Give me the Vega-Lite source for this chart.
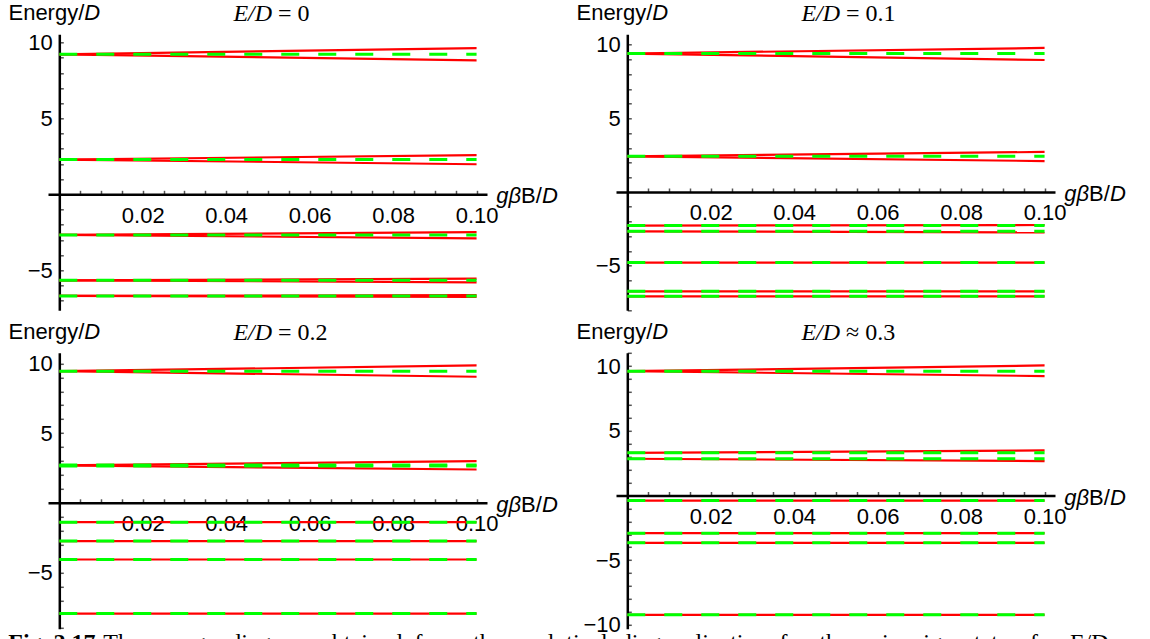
{
  "$schema": "https://vega.github.io/schema/vega-lite/v6.json",
  "background": "white",
  "padding": {"left": 8, "top": 2.3, "right": 0, "bottom": 0},
  "autosize": {"type": "pad"},
  "config": {"view": {"stroke": null}, "axis": {"grid": false}},
  "datasets": {
    "labels": [
      {"p":1,"r":"en","t":"Energy/"},{"p":1,"r":"ed","t":"D"},{"p":1,"r":"ti","t":"E/D"},{"p":1,"r":"tv","t":"= 0"},{"p":1,"r":"xa","t":"gβ"},{"p":1,"r":"xb","t":"B/"},{"p":1,"r":"xc","t":"D"},
      {"p":2,"r":"en","t":"Energy/"},{"p":2,"r":"ed","t":"D"},{"p":2,"r":"ti","t":"E/D"},{"p":2,"r":"tv","t":"= 0.1"},{"p":2,"r":"xa","t":"gβ"},{"p":2,"r":"xb","t":"B/"},{"p":2,"r":"xc","t":"D"},
      {"p":3,"r":"en","t":"Energy/"},{"p":3,"r":"ed","t":"D"},{"p":3,"r":"ti","t":"E/D"},{"p":3,"r":"tv","t":"= 0.2"},{"p":3,"r":"xa","t":"gβ"},{"p":3,"r":"xb","t":"B/"},{"p":3,"r":"xc","t":"D"},
      {"p":3,"r":"ca","t":"Fig. 2.17"},{"p":3,"r":"cb","t":"The \u00a0energy \u00a0diagram \u00a0obtained \u00a0from \u00a0the \u00a0analytical \u00a0diagonalization \u00a0for \u00a0the \u00a0spin \u00a0eigenstates \u00a0for \u00a0E/D"},
      {"p":4,"r":"en","t":"Energy/"},{"p":4,"r":"ed","t":"D"},{"p":4,"r":"ti","t":"E/D"},{"p":4,"r":"tv","t":"≈ 0.3"},{"p":4,"r":"xa","t":"gβ"},{"p":4,"r":"xb","t":"B/"},{"p":4,"r":"xc","t":"D"}
    ],
    "lines": [
      {"p":1,"s":"exact","id":"a","x":0,"y":9.23},{"p":1,"s":"exact","id":"a","x":0.1,"y":9.64},
      {"p":1,"s":"exact","id":"b","x":0,"y":9.23},{"p":1,"s":"exact","id":"b","x":0.1,"y":8.83},
      {"p":1,"s":"exact","id":"c","x":0,"y":2.29},{"p":1,"s":"exact","id":"c","x":0.1,"y":2.58},
      {"p":1,"s":"exact","id":"d","x":0,"y":2.29},{"p":1,"s":"exact","id":"d","x":0.1,"y":1.98},
      {"p":1,"s":"exact","id":"e","x":0,"y":-2.68},{"p":1,"s":"exact","id":"e","x":0.1,"y":-2.49},
      {"p":1,"s":"exact","id":"f","x":0,"y":-2.68},{"p":1,"s":"exact","id":"f","x":0.1,"y":-2.9},
      {"p":1,"s":"exact","id":"g","x":0,"y":-5.67},{"p":1,"s":"exact","id":"g","x":0.1,"y":-5.56},
      {"p":1,"s":"exact","id":"h","x":0,"y":-5.67},{"p":1,"s":"exact","id":"h","x":0.1,"y":-5.8},
      {"p":1,"s":"exact","id":"i","x":0,"y":-6.7},{"p":1,"s":"exact","id":"i","x":0.1,"y":-6.65},
      {"p":1,"s":"exact","id":"j","x":0,"y":-6.7},{"p":1,"s":"exact","id":"j","x":0.1,"y":-6.76},
      {"p":1,"s":"pert","id":"A","x":0,"y":9.23},{"p":1,"s":"pert","id":"A","x":0.1,"y":9.23},
      {"p":1,"s":"pert","id":"B","x":0,"y":2.29},{"p":1,"s":"pert","id":"B","x":0.1,"y":2.29},
      {"p":1,"s":"pert","id":"C","x":0,"y":-2.68},{"p":1,"s":"pert","id":"C","x":0.1,"y":-2.68},
      {"p":1,"s":"pert","id":"D","x":0,"y":-5.67},{"p":1,"s":"pert","id":"D","x":0.1,"y":-5.67},
      {"p":1,"s":"pert","id":"E","x":0,"y":-6.7},{"p":1,"s":"pert","id":"E","x":0.1,"y":-6.7},

      {"p":2,"s":"exact","id":"a","x":0,"y":9.4},{"p":2,"s":"exact","id":"a","x":0.1,"y":9.78},
      {"p":2,"s":"exact","id":"b","x":0,"y":9.4},{"p":2,"s":"exact","id":"b","x":0.1,"y":8.96},
      {"p":2,"s":"exact","id":"c","x":0,"y":2.42},{"p":2,"s":"exact","id":"c","x":0.1,"y":2.72},
      {"p":2,"s":"exact","id":"d","x":0,"y":2.42},{"p":2,"s":"exact","id":"d","x":0.1,"y":2.1},
      {"p":2,"s":"exact","id":"e","x":0,"y":-2.28},{"p":2,"s":"exact","id":"e","x":0.1,"y":-2.24},
      {"p":2,"s":"exact","id":"f","x":0,"y":-2.67},{"p":2,"s":"exact","id":"f","x":0.1,"y":-2.74},
      {"p":2,"s":"exact","id":"g","x":0,"y":-4.79},{"p":2,"s":"exact","id":"g","x":0.1,"y":-4.79},
      {"p":2,"s":"exact","id":"h","x":0,"y":-6.74},{"p":2,"s":"exact","id":"h","x":0.1,"y":-6.74},
      {"p":2,"s":"exact","id":"i","x":0,"y":-7.08},{"p":2,"s":"exact","id":"i","x":0.1,"y":-7.08},
      {"p":2,"s":"pert","id":"A","x":0,"y":9.4},{"p":2,"s":"pert","id":"A","x":0.1,"y":9.4},
      {"p":2,"s":"pert","id":"B","x":0,"y":2.42},{"p":2,"s":"pert","id":"B","x":0.1,"y":2.42},
      {"p":2,"s":"pert","id":"C","x":0,"y":-2.28},{"p":2,"s":"pert","id":"C","x":0.1,"y":-2.28},
      {"p":2,"s":"pert","id":"D","x":0,"y":-2.67},{"p":2,"s":"pert","id":"D","x":0.1,"y":-2.67},
      {"p":2,"s":"pert","id":"E","x":0,"y":-4.79},{"p":2,"s":"pert","id":"E","x":0.1,"y":-4.79},
      {"p":2,"s":"pert","id":"F","x":0,"y":-6.74},{"p":2,"s":"pert","id":"F","x":0.1,"y":-6.74},
      {"p":2,"s":"pert","id":"G","x":0,"y":-7.08},{"p":2,"s":"pert","id":"G","x":0.1,"y":-7.08},

      {"p":3,"s":"exact","id":"a","x":0,"y":9.45},{"p":3,"s":"exact","id":"a","x":0.1,"y":9.86},
      {"p":3,"s":"exact","id":"b","x":0,"y":9.45},{"p":3,"s":"exact","id":"b","x":0.1,"y":9.05},
      {"p":3,"s":"exact","id":"c","x":0,"y":2.68},{"p":3,"s":"exact","id":"c","x":0.1,"y":2.99},
      {"p":3,"s":"exact","id":"d","x":0,"y":2.68},{"p":3,"s":"exact","id":"d","x":0.1,"y":2.39},
      {"p":3,"s":"exact","id":"e","x":0,"y":-1.39},{"p":3,"s":"exact","id":"e","x":0.1,"y":-1.39},
      {"p":3,"s":"exact","id":"f","x":0,"y":-2.75},{"p":3,"s":"exact","id":"f","x":0.1,"y":-2.75},
      {"p":3,"s":"exact","id":"g","x":0,"y":-4.07},{"p":3,"s":"exact","id":"g","x":0.1,"y":-4.07},
      {"p":3,"s":"exact","id":"h","x":0,"y":-7.95},{"p":3,"s":"exact","id":"h","x":0.1,"y":-7.95},
      {"p":3,"s":"pert","id":"A","x":0,"y":9.45},{"p":3,"s":"pert","id":"A","x":0.1,"y":9.45},
      {"p":3,"s":"pert","id":"B","x":0,"y":2.65},{"p":3,"s":"pert","id":"B","x":0.1,"y":2.65},
      {"p":3,"s":"pert","id":"B2","x":0,"y":2.71},{"p":3,"s":"pert","id":"B2","x":0.1,"y":2.71},
      {"p":3,"s":"pert","id":"C","x":0,"y":-1.39},{"p":3,"s":"pert","id":"C","x":0.1,"y":-1.39},
      {"p":3,"s":"pert","id":"D","x":0,"y":-2.75},{"p":3,"s":"pert","id":"D","x":0.1,"y":-2.75},
      {"p":3,"s":"pert","id":"E","x":0,"y":-4.07},{"p":3,"s":"pert","id":"E","x":0.1,"y":-4.07},
      {"p":3,"s":"pert","id":"F","x":0,"y":-7.95},{"p":3,"s":"pert","id":"F","x":0.1,"y":-7.95},

      {"p":4,"s":"exact","id":"a","x":0,"y":9.61},{"p":4,"s":"exact","id":"a","x":0.1,"y":10.05},
      {"p":4,"s":"exact","id":"b","x":0,"y":9.61},{"p":4,"s":"exact","id":"b","x":0.1,"y":9.23},
      {"p":4,"s":"exact","id":"c","x":0,"y":3.3},{"p":4,"s":"exact","id":"c","x":0.1,"y":3.48},
      {"p":4,"s":"exact","id":"d","x":0,"y":2.84},{"p":4,"s":"exact","id":"d","x":0.1,"y":2.66},
      {"p":4,"s":"exact","id":"e","x":0,"y":-0.39},{"p":4,"s":"exact","id":"e","x":0.1,"y":-0.39},
      {"p":4,"s":"exact","id":"f","x":0,"y":-2.91},{"p":4,"s":"exact","id":"f","x":0.1,"y":-2.91},
      {"p":4,"s":"exact","id":"g","x":0,"y":-3.66},{"p":4,"s":"exact","id":"g","x":0.1,"y":-3.66},
      {"p":4,"s":"exact","id":"h","x":0,"y":-9.22},{"p":4,"s":"exact","id":"h","x":0.1,"y":-9.22},
      {"p":4,"s":"pert","id":"A","x":0,"y":9.61},{"p":4,"s":"pert","id":"A","x":0.1,"y":9.61},
      {"p":4,"s":"pert","id":"B","x":0,"y":3.3},{"p":4,"s":"pert","id":"B","x":0.1,"y":3.3},
      {"p":4,"s":"pert","id":"C","x":0,"y":2.84},{"p":4,"s":"pert","id":"C","x":0.1,"y":2.84},
      {"p":4,"s":"pert","id":"D","x":0,"y":-0.39},{"p":4,"s":"pert","id":"D","x":0.1,"y":-0.39},
      {"p":4,"s":"pert","id":"E","x":0,"y":-2.91},{"p":4,"s":"pert","id":"E","x":0.1,"y":-2.91},
      {"p":4,"s":"pert","id":"F","x":0,"y":-3.66},{"p":4,"s":"pert","id":"F","x":0.1,"y":-3.66},
      {"p":4,"s":"pert","id":"G","x":0,"y":-9.22},{"p":4,"s":"pert","id":"G","x":0.1,"y":-9.22}
    ]
  },
  "columns": 2,
  "spacing": {"row": 42.5, "column": 129},
  "bounds": "flush",
  "concat": [
    {
      "width": 439, "height": 276,
      "encoding": {
        "x": {"type": "quantitative", "scale": {"domain": [-0.0027, 0.1025], "nice": false, "zero": false},
          "axis": {"orient": "bottom", "offset": -116, "title": null, "values": [0.005,0.01,0.015,0.02,0.025,0.03,0.035,0.04,0.045,0.05,0.055,0.06,0.065,0.07,0.075,0.08,0.085,0.09,0.095,0.1],
            "domainColor": "black", "domainWidth": 2.5, "tickColor": "#555555", "tickWidth": 1.5, "tickSize": -4,
            "labelExpr": "abs(datum.value*50 - round(datum.value*50)) < 1e-6 ? format(datum.value, '.2f') : ''",
            "labelFont": "Liberation Sans", "labelFontSize": 22, "labelColor": "black", "labelPadding": 15, "labelBaseline": "top", "labelOverlap": false, "labelFlush": false, "labelBound": false}},
        "y": {"type": "quantitative", "scale": {"domain": [-7.647, 10.547], "nice": false, "zero": false},
          "axis": {"orient": "left", "offset": -11.3, "title": null, "values": [-7,-6,-5,-4,-3,-2,-1,1,2,3,4,5,6,7,8,9,10],
            "domainColor": "black", "domainWidth": 2.5, "tickColor": "#555555", "tickWidth": 1.5, "tickSize": -4,
            "labelExpr": "datum.value % 5 === 0 ? format(datum.value, 'd') : ''",
            "labelFont": "Liberation Sans", "labelFontSize": 22, "labelColor": "black", "labelPadding": 11, "labelBaseline": "middle", "labelOverlap": false, "labelFlush": false, "labelBound": false}}
      },
      "layer": [
        {"data": {"name": "lines"}, "transform": [{"filter": "datum.p === 1 && datum.s === 'exact'"}], "mark": {"type": "line", "color": "#ff0000", "strokeWidth": 2.2}, "encoding": {"x": {"field": "x"}, "y": {"field": "y"}, "detail": {"field": "id"}}},
        {"data": {"name": "lines"}, "transform": [{"filter": "datum.p === 1 && datum.s === 'pert'"}], "mark": {"type": "line", "color": "#00ff00", "strokeWidth": 3, "strokeDash": [18, 19]}, "encoding": {"x": {"field": "x"}, "y": {"field": "y"}, "detail": {"field": "id"}}},
        {"data": {"name": "labels"}, "transform": [{"filter": "datum.p === 1 && datum.r === 'en'"}], "mark": {"type": "text", "align": "right", "baseline": "alphabetic", "font": "Liberation Sans", "fontSize": 22, "dx": 25, "dy": -14, "color": "black"}, "encoding": {"text": {"field": "t"}, "x": {"datum": 0}, "y": {"datum": 10.547}}},
        {"data": {"name": "labels"}, "transform": [{"filter": "datum.p === 1 && datum.r === 'ed'"}], "mark": {"type": "text", "align": "left", "baseline": "alphabetic", "font": "Liberation Sans", "fontStyle": "italic", "fontSize": 22, "dx": 25, "dy": -14, "color": "black"}, "encoding": {"text": {"field": "t"}, "x": {"datum": 0}, "y": {"datum": 10.547}}},
        {"data": {"name": "labels"}, "transform": [{"filter": "datum.p === 1 && datum.r === 'ti'"}], "mark": {"type": "text", "align": "right", "baseline": "alphabetic", "font": "Liberation Serif", "fontStyle": "italic", "fontSize": 24, "dx": 0, "dy": -13, "color": "black"}, "encoding": {"text": {"field": "t"}, "x": {"datum": 0.051}, "y": {"datum": 10.547}}},
        {"data": {"name": "labels"}, "transform": [{"filter": "datum.p === 1 && datum.r === 'tv'"}], "mark": {"type": "text", "align": "left", "baseline": "alphabetic", "font": "Liberation Serif", "fontSize": 24, "dx": 6, "dy": -13, "color": "black"}, "encoding": {"text": {"field": "t"}, "x": {"datum": 0.051}, "y": {"datum": 10.547}}},
        {"data": {"name": "labels"}, "transform": [{"filter": "datum.p === 1 && datum.r === 'xa'"}], "mark": {"type": "text", "align": "right", "baseline": "alphabetic", "font": "Liberation Sans", "fontStyle": "italic", "fontSize": 22, "dx": 34, "dy": 9, "color": "black"}, "encoding": {"text": {"field": "t"}, "x": {"datum": 0.1025}, "y": {"datum": 0}}},
        {"data": {"name": "labels"}, "transform": [{"filter": "datum.p === 1 && datum.r === 'xb'"}], "mark": {"type": "text", "align": "left", "baseline": "alphabetic", "font": "Liberation Sans", "fontSize": 22, "dx": 34, "dy": 9, "color": "black"}, "encoding": {"text": {"field": "t"}, "x": {"datum": 0.1025}, "y": {"datum": 0}}},
        {"data": {"name": "labels"}, "transform": [{"filter": "datum.p === 1 && datum.r === 'xc'"}], "mark": {"type": "text", "align": "left", "baseline": "alphabetic", "font": "Liberation Sans", "fontStyle": "italic", "fontSize": 22, "dx": 55, "dy": 9, "color": "black"}, "encoding": {"text": {"field": "t"}, "x": {"datum": 0.1025}, "y": {"datum": 0}}}
      ]
    },
    {
      "width": 439, "height": 276,
      "encoding": {
        "x": {"type": "quantitative", "scale": {"domain": [-0.0027, 0.1025], "nice": false, "zero": false},
          "axis": {"orient": "bottom", "offset": -118.3, "title": null, "values": [0.005,0.01,0.015,0.02,0.025,0.03,0.035,0.04,0.045,0.05,0.055,0.06,0.065,0.07,0.075,0.08,0.085,0.09,0.095,0.1],
            "domainColor": "black", "domainWidth": 2.5, "tickColor": "#555555", "tickWidth": 1.5, "tickSize": -4,
            "labelExpr": "abs(datum.value*50 - round(datum.value*50)) < 1e-6 ? format(datum.value, '.2f') : ''",
            "labelFont": "Liberation Sans", "labelFontSize": 22, "labelColor": "black", "labelPadding": 15, "labelBaseline": "top", "labelOverlap": false, "labelFlush": false, "labelBound": false}},
        "y": {"type": "quantitative", "scale": {"domain": [-8.031, 10.706], "nice": false, "zero": false},
          "axis": {"orient": "left", "offset": -11.3, "title": null, "values": [-8,-7,-6,-5,-4,-3,-2,-1,1,2,3,4,5,6,7,8,9,10],
            "domainColor": "black", "domainWidth": 2.5, "tickColor": "#555555", "tickWidth": 1.5, "tickSize": -4,
            "labelExpr": "datum.value % 5 === 0 ? format(datum.value, 'd') : ''",
            "labelFont": "Liberation Sans", "labelFontSize": 22, "labelColor": "black", "labelPadding": 11, "labelBaseline": "middle", "labelOverlap": false, "labelFlush": false, "labelBound": false}}
      },
      "layer": [
        {"data": {"name": "lines"}, "transform": [{"filter": "datum.p === 2 && datum.s === 'exact'"}], "mark": {"type": "line", "color": "#ff0000", "strokeWidth": 2.2}, "encoding": {"x": {"field": "x"}, "y": {"field": "y"}, "detail": {"field": "id"}}},
        {"data": {"name": "lines"}, "transform": [{"filter": "datum.p === 2 && datum.s === 'pert'"}], "mark": {"type": "line", "color": "#00ff00", "strokeWidth": 3, "strokeDash": [18, 19]}, "encoding": {"x": {"field": "x"}, "y": {"field": "y"}, "detail": {"field": "id"}}},
        {"data": {"name": "labels"}, "transform": [{"filter": "datum.p === 2 && datum.r === 'en'"}], "mark": {"type": "text", "align": "right", "baseline": "alphabetic", "font": "Liberation Sans", "fontSize": 22, "dx": 25, "dy": -14, "color": "black"}, "encoding": {"text": {"field": "t"}, "x": {"datum": 0}, "y": {"datum": 10.706}}},
        {"data": {"name": "labels"}, "transform": [{"filter": "datum.p === 2 && datum.r === 'ed'"}], "mark": {"type": "text", "align": "left", "baseline": "alphabetic", "font": "Liberation Sans", "fontStyle": "italic", "fontSize": 22, "dx": 25, "dy": -14, "color": "black"}, "encoding": {"text": {"field": "t"}, "x": {"datum": 0}, "y": {"datum": 10.706}}},
        {"data": {"name": "labels"}, "transform": [{"filter": "datum.p === 2 && datum.r === 'ti'"}], "mark": {"type": "text", "align": "right", "baseline": "alphabetic", "font": "Liberation Serif", "fontStyle": "italic", "fontSize": 24, "dx": 0, "dy": -13, "color": "black"}, "encoding": {"text": {"field": "t"}, "x": {"datum": 0.051}, "y": {"datum": 10.706}}},
        {"data": {"name": "labels"}, "transform": [{"filter": "datum.p === 2 && datum.r === 'tv'"}], "mark": {"type": "text", "align": "left", "baseline": "alphabetic", "font": "Liberation Serif", "fontSize": 24, "dx": 6, "dy": -13, "color": "black"}, "encoding": {"text": {"field": "t"}, "x": {"datum": 0.051}, "y": {"datum": 10.706}}},
        {"data": {"name": "labels"}, "transform": [{"filter": "datum.p === 2 && datum.r === 'xa'"}], "mark": {"type": "text", "align": "right", "baseline": "alphabetic", "font": "Liberation Sans", "fontStyle": "italic", "fontSize": 22, "dx": 34, "dy": 9, "color": "black"}, "encoding": {"text": {"field": "t"}, "x": {"datum": 0.1025}, "y": {"datum": 0}}},
        {"data": {"name": "labels"}, "transform": [{"filter": "datum.p === 2 && datum.r === 'xb'"}], "mark": {"type": "text", "align": "left", "baseline": "alphabetic", "font": "Liberation Sans", "fontSize": 22, "dx": 34, "dy": 9, "color": "black"}, "encoding": {"text": {"field": "t"}, "x": {"datum": 0.1025}, "y": {"datum": 0}}},
        {"data": {"name": "labels"}, "transform": [{"filter": "datum.p === 2 && datum.r === 'xc'"}], "mark": {"type": "text", "align": "left", "baseline": "alphabetic", "font": "Liberation Sans", "fontStyle": "italic", "fontSize": 22, "dx": 55, "dy": 9, "color": "black"}, "encoding": {"text": {"field": "t"}, "x": {"datum": 0.1025}, "y": {"datum": 0}}}
      ]
    },
    {
      "width": 439, "height": 276,
      "encoding": {
        "x": {"type": "quantitative", "scale": {"domain": [-0.0027, 0.1025], "nice": false, "zero": false},
          "axis": {"orient": "bottom", "offset": -126, "title": null, "values": [0.005,0.01,0.015,0.02,0.025,0.03,0.035,0.04,0.045,0.05,0.055,0.06,0.065,0.07,0.075,0.08,0.085,0.09,0.095,0.1],
            "domainColor": "black", "domainWidth": 2.5, "tickColor": "#555555", "tickWidth": 1.5, "tickSize": -4,
            "labelExpr": "abs(datum.value*50 - round(datum.value*50)) < 1e-6 ? format(datum.value, '.2f') : ''",
            "labelFont": "Liberation Sans", "labelFontSize": 22, "labelColor": "black", "labelPadding": 15, "labelBaseline": "top", "labelOverlap": false, "labelFlush": false, "labelBound": false}},
        "y": {"type": "quantitative", "scale": {"domain": [-9.045, 10.768], "nice": false, "zero": false},
          "axis": {"orient": "left", "offset": -11.3, "title": null, "values": [-9,-8,-7,-6,-5,-4,-3,-2,-1,1,2,3,4,5,6,7,8,9,10],
            "domainColor": "black", "domainWidth": 2.5, "tickColor": "#555555", "tickWidth": 1.5, "tickSize": -4,
            "labelExpr": "datum.value % 5 === 0 ? format(datum.value, 'd') : ''",
            "labelFont": "Liberation Sans", "labelFontSize": 22, "labelColor": "black", "labelPadding": 11, "labelBaseline": "middle", "labelOverlap": false, "labelFlush": false, "labelBound": false}}
      },
      "layer": [
        {"data": {"name": "lines"}, "transform": [{"filter": "datum.p === 3 && datum.s === 'exact'"}], "mark": {"type": "line", "color": "#ff0000", "strokeWidth": 2.2}, "encoding": {"x": {"field": "x"}, "y": {"field": "y"}, "detail": {"field": "id"}}},
        {"data": {"name": "lines"}, "transform": [{"filter": "datum.p === 3 && datum.s === 'pert'"}], "mark": {"type": "line", "color": "#00ff00", "strokeWidth": 3, "strokeDash": [18, 19]}, "encoding": {"x": {"field": "x"}, "y": {"field": "y"}, "detail": {"field": "id"}}},
        {"data": {"name": "labels"}, "transform": [{"filter": "datum.p === 3 && datum.r === 'en'"}], "mark": {"type": "text", "align": "right", "baseline": "alphabetic", "font": "Liberation Sans", "fontSize": 22, "dx": 25, "dy": -14, "color": "black"}, "encoding": {"text": {"field": "t"}, "x": {"datum": 0}, "y": {"datum": 10.768}}},
        {"data": {"name": "labels"}, "transform": [{"filter": "datum.p === 3 && datum.r === 'ed'"}], "mark": {"type": "text", "align": "left", "baseline": "alphabetic", "font": "Liberation Sans", "fontStyle": "italic", "fontSize": 22, "dx": 25, "dy": -14, "color": "black"}, "encoding": {"text": {"field": "t"}, "x": {"datum": 0}, "y": {"datum": 10.768}}},
        {"data": {"name": "labels"}, "transform": [{"filter": "datum.p === 3 && datum.r === 'ti'"}], "mark": {"type": "text", "align": "right", "baseline": "alphabetic", "font": "Liberation Serif", "fontStyle": "italic", "fontSize": 24, "dx": 0, "dy": -13, "color": "black"}, "encoding": {"text": {"field": "t"}, "x": {"datum": 0.051}, "y": {"datum": 10.768}}},
        {"data": {"name": "labels"}, "transform": [{"filter": "datum.p === 3 && datum.r === 'tv'"}], "mark": {"type": "text", "align": "left", "baseline": "alphabetic", "font": "Liberation Serif", "fontSize": 24, "dx": 6, "dy": -13, "color": "black"}, "encoding": {"text": {"field": "t"}, "x": {"datum": 0.051}, "y": {"datum": 10.768}}},
        {"data": {"name": "labels"}, "transform": [{"filter": "datum.p === 3 && datum.r === 'xa'"}], "mark": {"type": "text", "align": "right", "baseline": "alphabetic", "font": "Liberation Sans", "fontStyle": "italic", "fontSize": 22, "dx": 34, "dy": 9, "color": "black"}, "encoding": {"text": {"field": "t"}, "x": {"datum": 0.1025}, "y": {"datum": 0}}},
        {"data": {"name": "labels"}, "transform": [{"filter": "datum.p === 3 && datum.r === 'xb'"}], "mark": {"type": "text", "align": "left", "baseline": "alphabetic", "font": "Liberation Sans", "fontSize": 22, "dx": 34, "dy": 9, "color": "black"}, "encoding": {"text": {"field": "t"}, "x": {"datum": 0.1025}, "y": {"datum": 0}}},
        {"data": {"name": "labels"}, "transform": [{"filter": "datum.p === 3 && datum.r === 'xc'"}], "mark": {"type": "text", "align": "left", "baseline": "alphabetic", "font": "Liberation Sans", "fontStyle": "italic", "fontSize": 22, "dx": 55, "dy": 9, "color": "black"}, "encoding": {"text": {"field": "t"}, "x": {"datum": 0.1025}, "y": {"datum": 0}}},
        {"data": {"name": "labels"}, "transform": [{"filter": "datum.p === 3 && datum.r === 'ca'"}], "mark": {"type": "text", "align": "left", "baseline": "alphabetic", "font": "Liberation Serif", "fontWeight": "bold", "fontSize": 24, "dx": -51, "dy": 21, "color": "black"}, "encoding": {"text": {"field": "t"}, "x": {"datum": 0}, "y": {"datum": -9.045}}},
        {"data": {"name": "labels"}, "transform": [{"filter": "datum.p === 3 && datum.r === 'cb'"}], "mark": {"type": "text", "align": "left", "baseline": "alphabetic", "font": "Liberation Serif", "fontSize": 24, "dx": 44, "dy": 21, "color": "black"}, "encoding": {"text": {"field": "t"}, "x": {"datum": 0}, "y": {"datum": -9.045}}}
      ]
    },
    {
      "width": 439, "height": 276,
      "encoding": {
        "x": {"type": "quantitative", "scale": {"domain": [-0.0027, 0.1025], "nice": false, "zero": false},
          "axis": {"orient": "bottom", "offset": -133.3, "title": null, "values": [0.005,0.01,0.015,0.02,0.025,0.03,0.035,0.04,0.045,0.05,0.055,0.06,0.065,0.07,0.075,0.08,0.085,0.09,0.095,0.1],
            "domainColor": "black", "domainWidth": 2.5, "tickColor": "#555555", "tickWidth": 1.5, "tickSize": -4,
            "labelExpr": "abs(datum.value*50 - round(datum.value*50)) < 1e-6 ? format(datum.value, '.2f') : ''",
            "labelFont": "Liberation Sans", "labelFontSize": 22, "labelColor": "black", "labelPadding": 15, "labelBaseline": "top", "labelOverlap": false, "labelFlush": false, "labelBound": false}},
        "y": {"type": "quantitative", "scale": {"domain": [-10.301, 11.028], "nice": false, "zero": false},
          "axis": {"orient": "left", "offset": -11.3, "title": null, "values": [-10,-9,-8,-7,-6,-5,-4,-3,-2,-1,1,2,3,4,5,6,7,8,9,10,11],
            "domainColor": "black", "domainWidth": 2.5, "tickColor": "#555555", "tickWidth": 1.5, "tickSize": -4,
            "labelExpr": "datum.value % 5 === 0 ? format(datum.value, 'd') : ''",
            "labelFont": "Liberation Sans", "labelFontSize": 22, "labelColor": "black", "labelPadding": 11, "labelBaseline": "middle", "labelOverlap": false, "labelFlush": false, "labelBound": false}}
      },
      "layer": [
        {"data": {"name": "lines"}, "transform": [{"filter": "datum.p === 4 && datum.s === 'exact'"}], "mark": {"type": "line", "color": "#ff0000", "strokeWidth": 2.2}, "encoding": {"x": {"field": "x"}, "y": {"field": "y"}, "detail": {"field": "id"}}},
        {"data": {"name": "lines"}, "transform": [{"filter": "datum.p === 4 && datum.s === 'pert'"}], "mark": {"type": "line", "color": "#00ff00", "strokeWidth": 3, "strokeDash": [18, 19]}, "encoding": {"x": {"field": "x"}, "y": {"field": "y"}, "detail": {"field": "id"}}},
        {"data": {"name": "labels"}, "transform": [{"filter": "datum.p === 4 && datum.r === 'en'"}], "mark": {"type": "text", "align": "right", "baseline": "alphabetic", "font": "Liberation Sans", "fontSize": 22, "dx": 25, "dy": -14, "color": "black"}, "encoding": {"text": {"field": "t"}, "x": {"datum": 0}, "y": {"datum": 11.028}}},
        {"data": {"name": "labels"}, "transform": [{"filter": "datum.p === 4 && datum.r === 'ed'"}], "mark": {"type": "text", "align": "left", "baseline": "alphabetic", "font": "Liberation Sans", "fontStyle": "italic", "fontSize": 22, "dx": 25, "dy": -14, "color": "black"}, "encoding": {"text": {"field": "t"}, "x": {"datum": 0}, "y": {"datum": 11.028}}},
        {"data": {"name": "labels"}, "transform": [{"filter": "datum.p === 4 && datum.r === 'ti'"}], "mark": {"type": "text", "align": "right", "baseline": "alphabetic", "font": "Liberation Serif", "fontStyle": "italic", "fontSize": 24, "dx": 0, "dy": -13, "color": "black"}, "encoding": {"text": {"field": "t"}, "x": {"datum": 0.051}, "y": {"datum": 11.028}}},
        {"data": {"name": "labels"}, "transform": [{"filter": "datum.p === 4 && datum.r === 'tv'"}], "mark": {"type": "text", "align": "left", "baseline": "alphabetic", "font": "Liberation Serif", "fontSize": 24, "dx": 6, "dy": -13, "color": "black"}, "encoding": {"text": {"field": "t"}, "x": {"datum": 0.051}, "y": {"datum": 11.028}}},
        {"data": {"name": "labels"}, "transform": [{"filter": "datum.p === 4 && datum.r === 'xa'"}], "mark": {"type": "text", "align": "right", "baseline": "alphabetic", "font": "Liberation Sans", "fontStyle": "italic", "fontSize": 22, "dx": 34, "dy": 9, "color": "black"}, "encoding": {"text": {"field": "t"}, "x": {"datum": 0.1025}, "y": {"datum": 0}}},
        {"data": {"name": "labels"}, "transform": [{"filter": "datum.p === 4 && datum.r === 'xb'"}], "mark": {"type": "text", "align": "left", "baseline": "alphabetic", "font": "Liberation Sans", "fontSize": 22, "dx": 34, "dy": 9, "color": "black"}, "encoding": {"text": {"field": "t"}, "x": {"datum": 0.1025}, "y": {"datum": 0}}},
        {"data": {"name": "labels"}, "transform": [{"filter": "datum.p === 4 && datum.r === 'xc'"}], "mark": {"type": "text", "align": "left", "baseline": "alphabetic", "font": "Liberation Sans", "fontStyle": "italic", "fontSize": 22, "dx": 55, "dy": 9, "color": "black"}, "encoding": {"text": {"field": "t"}, "x": {"datum": 0.1025}, "y": {"datum": 0}}}
      ]
    }
  ]
}
